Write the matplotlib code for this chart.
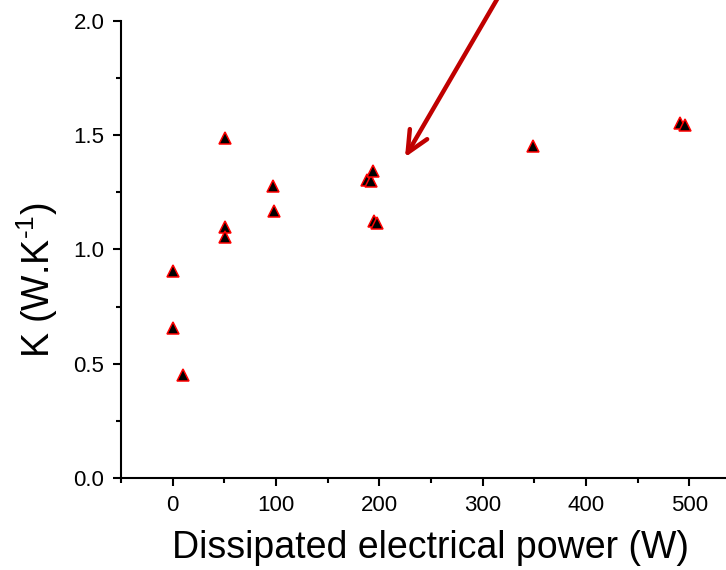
import matplotlib
matplotlib.use("Agg")
import matplotlib.pyplot as plt
from matplotlib.ticker import MultipleLocator

# Data
power_W = [0, 0, 10, 51, 51, 51, 97, 98, 188, 192, 194, 195, 198, 349, 491, 496]
K_values = [0.908, 0.657, 0.449, 1.487, 1.097, 1.056, 1.276, 1.167, 1.305,
            1.298, 1.343, 1.124, 1.115, 1.455, 1.554, 1.545]
x_ticks = [0, 100, 200, 300, 400, 500]
y_ticks = [0.0, 0.5, 1.0, 1.5, 2.0]
x_label = "Dissipated electrical power (W)"
y_label = r"K (W.K$^{\text{-1}}$)"

plt.rcParams['font.family'] = ['Liberation Sans', 'DejaVu Sans']
plt.rcParams['mathtext.fontset'] = 'custom'
plt.rcParams['mathtext.rm'] = 'Liberation Sans'
plt.rcParams['mathtext.it'] = 'Liberation Sans'

W, H = 726, 570
fig = plt.figure(figsize=(W / 100, H / 100), dpi=100)
left_px, right_px = 121, 741
bottom_px, top_px = 478, 21
ax = fig.add_axes([left_px / W, (H - bottom_px) / H,
                   (right_px - left_px) / W, (bottom_px - top_px) / H])

ax.plot(power_W, K_values, linestyle='none', marker='^', markersize=8,
        markerfacecolor='black', markeredgecolor='#FF0000', markeredgewidth=1.1,
        clip_on=False)

ax.set_xlim(-50, 550)
ax.set_ylim(0, 2.0)
ax.set_xticks(x_ticks)
ax.set_yticks(y_ticks)
ax.set_yticklabels([f"{v:.1f}" for v in y_ticks])
ax.xaxis.set_minor_locator(MultipleLocator(50))
ax.yaxis.set_minor_locator(MultipleLocator(0.25))

for side in ['top', 'right']:
    ax.spines[side].set_visible(False)
for side in ['left', 'bottom']:
    ax.spines[side].set_linewidth(1.5)

ax.tick_params(which='major', direction='out', length=6, width=1.5,
               labelsize=16, pad=6)
ax.tick_params(which='minor', direction='out', length=3.5, width=1.5)

ax.set_xlabel(x_label, fontsize=27, labelpad=10)
ax.set_ylabel(y_label, fontsize=27)
ax.yaxis.set_label_coords(-0.098, 0.433)

# Red arrow annotation
ax.annotate('', xy=(405 / W, 1 - 157.3 / H), xytext=(503 / W, 1 + 11 / H),
            xycoords='figure fraction', textcoords='figure fraction',
            annotation_clip=False,
            arrowprops=dict(arrowstyle='->,head_length=1.55,head_width=0.72',
                            color='#C00000', lw=3.2, shrinkA=0, shrinkB=0))

fig.savefig('out.png', dpi=100)
